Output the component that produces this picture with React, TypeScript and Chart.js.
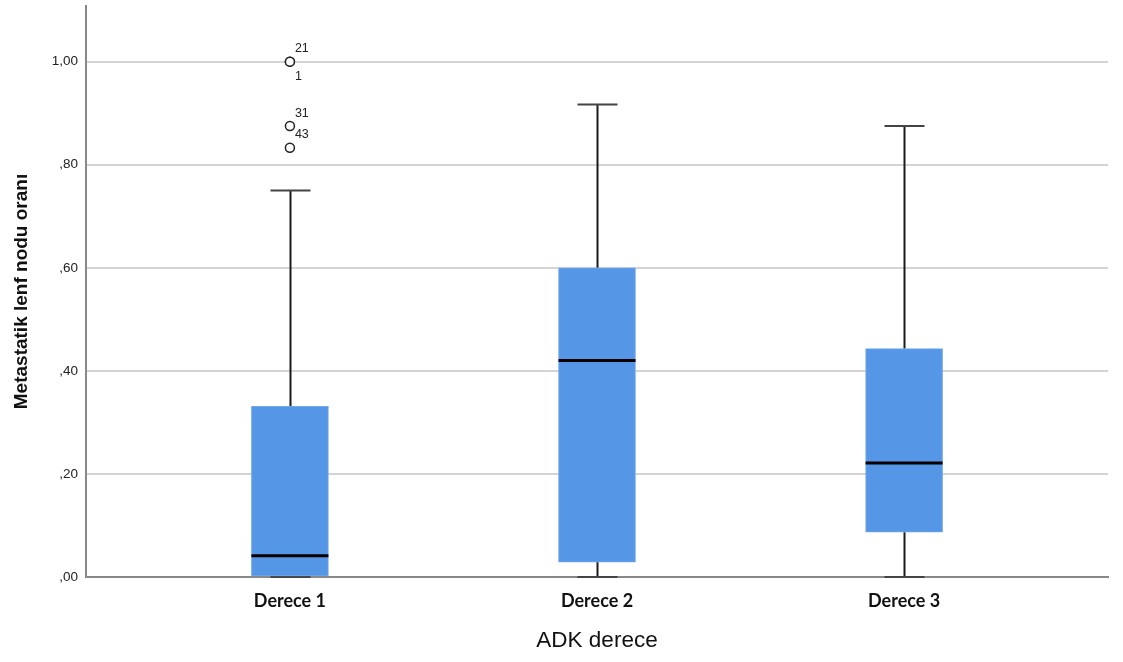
import React, { useEffect, useRef } from "react";
import { Chart, registerables } from "chart.js";

Chart.register(...registerables);

// ---- data ----
const categories = ["Derece 1", "Derece 2", "Derece 3"];
const whiskerMin = [0, 0, 0];
const q1Values = [0, 0.029, 0.087];
const medianValues = [0.041, 0.42, 0.221];
const q3Values = [0.331, 0.6, 0.443];
const whiskerMax = [0.75, 0.917, 0.875];
const outlierCategory = [1, 1, 1, 1];
const outlierValues = [1.0, 1.0, 0.875, 0.833];
const outlierIds = ["21", "1", "31", "43"];
const yTickValues = [0, 0.2, 0.4, 0.6, 0.8, 1.0];

const fmtTick = (v: number) => {
  const s = v.toFixed(2).replace(".", ",");
  return s.startsWith("0") ? s.slice(1) : s;
};

const boxPlugin = {
  id: "boxParts",
  beforeDatasetsDraw(chart: any) {
    const { ctx, scales } = chart;
    const x = scales.x;
    const y = scales.y;
    ctx.save();
    categories.forEach((_, i) => {
      const cx = Math.round(x.getPixelForValue(i + 1)) + 0.5;
      const capHalf = 20;
      ctx.strokeStyle = "#1a1a1a";
      ctx.lineWidth = 2;
      ctx.beginPath();
      ctx.moveTo(cx, y.getPixelForValue(whiskerMin[i]));
      ctx.lineTo(cx, y.getPixelForValue(q1Values[i]));
      ctx.stroke();
      ctx.beginPath();
      ctx.moveTo(cx, y.getPixelForValue(q3Values[i]));
      ctx.lineTo(cx, y.getPixelForValue(whiskerMax[i]));
      ctx.stroke();
      ctx.strokeStyle = "#444";
      [whiskerMin[i], whiskerMax[i]].forEach((v) => {
        const py = y.getPixelForValue(v);
        ctx.beginPath();
        ctx.moveTo(cx - capHalf, py);
        ctx.lineTo(cx + capHalf, py);
        ctx.stroke();
      });
    });
    ctx.restore();
  },
  afterDatasetsDraw(chart: any) {
    const { ctx, scales } = chart;
    const x = scales.x;
    const y = scales.y;
    const meta = chart.getDatasetMeta(0);
    ctx.save();
    categories.forEach((_, i) => {
      const bar = meta.data[i];
      const half = bar.width / 2;
      const cx = x.getPixelForValue(i + 1);
      const py = y.getPixelForValue(medianValues[i]);
      ctx.strokeStyle = "#000";
      ctx.lineWidth = 3;
      ctx.beginPath();
      ctx.moveTo(cx - half, py);
      ctx.lineTo(cx + half, py);
      ctx.stroke();
    });
    ctx.fillStyle = "#222";
    ctx.font = "12.5px 'Liberation Sans', Arial, sans-serif";
    ctx.textAlign = "left";
    ctx.textBaseline = "middle";
    outlierValues.forEach((v, i) => {
      const dup = outlierValues
        .slice(0, i)
        .some((w, j) => w === v && outlierCategory[j] === outlierCategory[i]);
      const px = x.getPixelForValue(outlierCategory[i]);
      const py = y.getPixelForValue(v);
      ctx.fillText(outlierIds[i], px + 5, py + (dup ? 15 : -13));
    });
    ctx.restore();
  },
};

export default function App() {
  const canvasRef = useRef<HTMLCanvasElement | null>(null);

  useEffect(() => {
    if (!canvasRef.current) return;
    const chart = new Chart(canvasRef.current, {
      type: "bar",
      data: {
        datasets: [
          {
            type: "bar",
            data: categories.map((_, i) => ({ x: i + 1, y: [q1Values[i], q3Values[i]] })) as any,
            backgroundColor: "#5596E6",
            borderColor: "#6FA8EE",
            borderWidth: 1,
            borderSkipped: false,
            barThickness: 77,
          } as any,
          {
            type: "scatter",
            data: outlierValues.map((v, i) => ({ x: outlierCategory[i], y: v })),
            pointRadius: 4.5,
            pointBorderWidth: 1.5,
            pointBorderColor: "#222",
            pointBackgroundColor: "#fff",
            showLine: false,
          } as any,
        ],
      },
      options: {
        animation: false,
        responsive: true,
        maintainAspectRatio: false,
        events: [],
        layout: { padding: { top: 5, right: 15, bottom: 0, left: 0 } },
        plugins: { legend: { display: false }, tooltip: { enabled: false } },
        scales: {
          x: {
            type: "linear",
            offset: false,
            min: 0.336,
            max: 3.664,
            grid: { display: false, drawTicks: false, offset: false },
            border: { display: true, color: "#888", width: 2 },
            afterBuildTicks: (scale: any) => {
              scale.ticks = categories.map((_, i) => ({ value: i + 1 }));
            },
            afterFit: (scale: any) => {
              scale.height = 85;
              scale.paddingLeft = 0;
              scale.paddingRight = 0;
            },
            ticks: {
              callback: (v: any) => categories[Number(v) - 1] ?? "",
              padding: 13,
              color: "#111",
              font: { family: "Lato, 'Open Sans', sans-serif", size: 18, weight: "bold" },
              maxRotation: 0,
              autoSkip: false,
            },
            title: {
              display: true,
              text: "ADK derece",
              color: "#111",
              font: { family: "'Liberation Sans', Arial, sans-serif", size: 22.5 },
              padding: { top: 0, bottom: 8 },
            },
          },
          y: {
            min: 0,
            max: 1.108,
            grid: { color: "#d4d4d4", lineWidth: 2, drawTicks: false },
            border: { display: true, color: "#888", width: 2 },
            afterBuildTicks: (scale: any) => {
              scale.ticks = yTickValues.map((v) => ({ value: v }));
            },
            afterFit: (scale: any) => {
              scale.width = 86;
              scale.paddingTop = 0;
              scale.paddingBottom = 0;
            },
            ticks: {
              callback: (v: any) => fmtTick(Number(v)),
              padding: 8,
              color: "#222",
              font: { family: "'Liberation Sans', Arial, sans-serif", size: 13.5 },
            },
            title: {
              display: true,
              text: "Metastatik lenf nodu oranı",
              color: "#111",
              font: { family: "'Liberation Sans', Arial, sans-serif", size: 19, weight: "bold" },
              padding: { top: 10, bottom: 0 },
            },
          },
        },
      },
      plugins: [boxPlugin],
    });
    return () => chart.destroy();
  }, []);

  return (
    <div style={{ position: "fixed", left: 0, top: 0, width: 1123, height: 662, background: "#fff" }}>
      <canvas ref={canvasRef} />
    </div>
  );
}
